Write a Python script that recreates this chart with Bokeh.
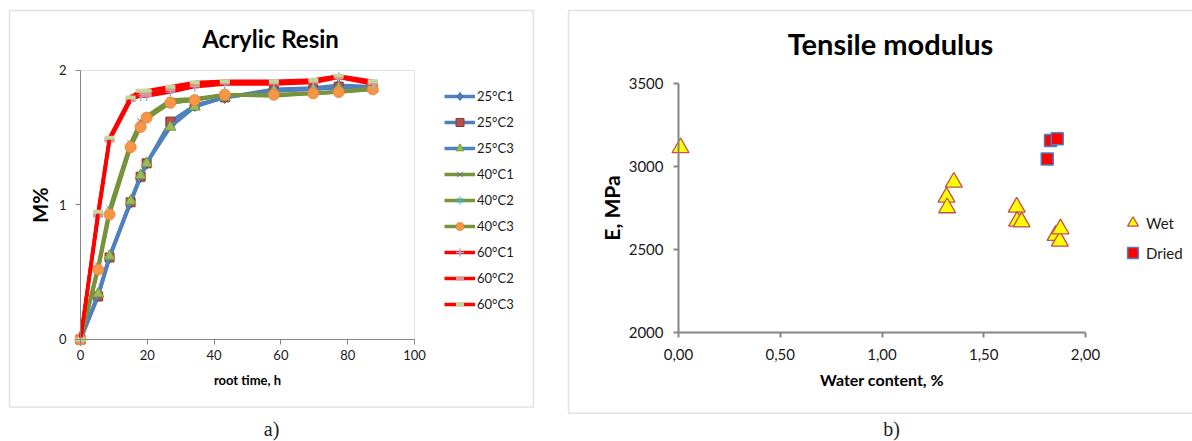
from bokeh.plotting import figure
from bokeh.layouts import row
from bokeh.models import (Range1d, Label, BoxAnnotation, Legend, LegendItem,
                          FixedTicker, CustomJSTickFormatter)
from bokeh.embed import file_html
from bokeh.resources import INLINE

# ---------------- data: a) Acrylic Resin ----------------
root_time = [0, 5.3, 8.7, 15.0, 18.0, 19.8, 26.9, 34.2, 43.2, 57.9, 69.7, 77.3, 87.5]
m_25c1 = [0, 0.33, 0.61, 1.02, 1.21, 1.31, 1.60, 1.74, 1.80, 1.86, 1.87, 1.89, 1.88]
m_25c2 = [0, 0.32, 0.61, 1.02, 1.21, 1.31, 1.62, 1.74, 1.80, 1.85, 1.86, 1.88, 1.87]
m_25c3 = [0, 0.34, 0.62, 1.03, 1.22, 1.31, 1.58, 1.73, 1.80, 1.85, 1.86, 1.87, 1.87]
m_40c1 = [0, 0.55, 0.97, 1.46, 1.62, 1.66, 1.78, 1.79, 1.82, 1.81, 1.83, 1.84, 1.86]
m_40c2 = [0, 0.53, 0.95, 1.44, 1.60, 1.64, 1.76, 1.78, 1.82, 1.82, 1.83, 1.84, 1.87]
m_40c3 = [0, 0.52, 0.93, 1.43, 1.58, 1.65, 1.76, 1.78, 1.82, 1.82, 1.83, 1.84, 1.86]
m_60c1 = [0, 0.94, 1.49, 1.79, 1.81, 1.81, 1.84, 1.88, 1.90, 1.90, 1.91, 1.95, 1.90]
m_60c2 = [0, 0.92, 1.48, 1.78, 1.83, 1.82, 1.86, 1.89, 1.91, 1.91, 1.92, 1.95, 1.91]
m_60c3 = [0, 0.95, 1.50, 1.80, 1.85, 1.85, 1.88, 1.91, 1.92, 1.92, 1.93, 1.96, 1.92]
series_names = ["25°C1", "25°C2", "25°C3", "40°C1", "40°C2", "40°C3", "60°C1", "60°C2", "60°C3"]
x1_ticks = [0, 20, 40, 60, 80, 100]
y1_ticks = [0, 1, 2]

# ---------------- data: b) Tensile modulus ----------------
wet_water = [0.01, 1.317, 1.320, 1.353, 1.662, 1.664, 1.686, 1.853, 1.874, 1.877]
wet_E = [3114, 2816, 2752, 2906, 2756, 2671, 2667, 2585, 2551, 2625]
dried_water = [1.812, 1.828, 1.861]
dried_E = [3047, 3158, 3168]
x2_ticks = [0, 0.5, 1.0, 1.5, 2.0]
y2_ticks = [2000, 2500, 3000, 3500]

FONT = "Lato"
TXT = "#1a1a1a"
AXC = "#868686"


def style_axis(ax, ticks, size, lw):
    ax.ticker = FixedTicker(ticks=ticks)
    ax.axis_line_color = AXC
    ax.axis_line_width = lw
    ax.major_tick_line_color = AXC
    ax.major_tick_line_width = lw
    ax.major_tick_out = 5
    ax.major_tick_in = 0
    ax.minor_tick_line_color = None
    ax.major_label_text_font = FONT
    ax.major_label_text_font_size = size
    ax.major_label_text_color = TXT
    ax.axis_label_text_font = FONT
    ax.axis_label_text_font_style = "bold"
    ax.axis_label_text_color = "black"


# ================= figure a =================
# frame = whole figure; axes are pinned at the data origin
p1 = figure(width=559, height=441, x_range=Range1d(-23.95, 143.41),
            y_range=Range1d(-0.7584, 2.5204),
            output_backend="svg", toolbar_location=None,
            min_border_left=0, min_border_right=0, min_border_top=0, min_border_bottom=0)
p1.xgrid.visible = False
p1.ygrid.visible = False
p1.outline_line_color = None

style_axis(p1.xaxis[0], x1_ticks, "13px", 1)
style_axis(p1.yaxis[0], y1_ticks, "13px", 1)
p1.xaxis.fixed_location = 0
p1.xaxis.bounds = (0, 100)
p1.yaxis.fixed_location = 0
p1.yaxis.bounds = (0, 2)
p1.xaxis.axis_label = "root time, h"
p1.xaxis.axis_label_text_font_size = "13px"
p1.xaxis.major_label_standoff = 6
p1.xaxis.axis_label_standoff = 8
p1.yaxis.axis_label = "M%"
p1.yaxis.axis_label_text_font_size = "20px"
p1.yaxis.major_label_standoff = 9
p1.yaxis.axis_label_standoff = 4

# chart border and plot-area border
p1.add_layout(BoxAnnotation(left=-21.26, right=135.6, top=2.446, bottom=-0.502,
                            fill_alpha=0, line_color="#A0A0A0", line_width=1.5, level="underlay"))
p1.add_layout(BoxAnnotation(left=0, right=100, top=2, bottom=0,
                            fill_alpha=0, line_color="#7BA0CD", line_width=1, level="underlay"))

series_vals = [m_25c1, m_25c2, m_25c3, m_40c1, m_40c2, m_40c3, m_60c1, m_60c2, m_60c3]
line_cols = ["#4F81BD"] * 3 + ["#77933C"] * 3 + ["#FF0000"] * 3
markers = [
    dict(marker="diamond", size=12, fill_color="#4F81BD", line_color="#3A6797", line_width=1),
    dict(marker="square", size=9, fill_color="#B5504C", line_color="#8C3836", line_width=1),
    dict(marker="triangle", size=11, fill_color="#9BBB59", line_color="#7A9A3E", line_width=1),
    dict(marker="x", size=9, line_color="#8064A2", line_width=1),
    dict(marker="asterisk", size=9, line_color="#4BACC6", line_width=1),
    dict(marker="circle", size=11, fill_color="#F79646", line_color="#E58A3C", line_width=1),
    dict(marker="cross", size=10, line_color="#95B3D7", line_width=1.5),
    dict(marker="dash", size=10, line_color="#D99694", line_width=4),
    dict(marker="dash", size=10, line_color="#C3D69B", line_width=4),
]
items = []
for name, vals, lc, mk in zip(series_names, series_vals, line_cols, markers):
    lr = p1.line(root_time, vals, line_color=lc, line_width=3.5)
    sr = p1.scatter(root_time, vals, **mk)
    items.append(LegendItem(label=name, renderers=[lr, sr]))

leg1 = Legend(items=items, location=(444, 127), orientation="vertical",
              glyph_width=31, glyph_height=20, label_height=20, spacing=6,
              padding=0, margin=0, label_standoff=2,
              border_line_color=None, background_fill_alpha=0,
              label_text_font=FONT, label_text_font_size="13px", label_text_color=TXT)
p1.add_layout(leg1)

p1.add_layout(Label(x=56.9, y=2.238, text="Acrylic Resin", text_align="center",
                    text_baseline="middle", text_font=FONT, text_font_style="bold",
                    text_font_size="24px", text_color="black"))
p1.add_layout(Label(x=57.2, y=-0.662, text="a)", text_align="center",
                    text_baseline="middle", text_font="Liberation Serif",
                    text_font_size="20px", text_color="#222222"))

# ================= figure b =================
p2 = figure(width=633, height=441, x_range=Range1d(-0.58477, 2.52580),
            y_range=Range1d(1342.6, 4002.4),
            output_backend="svg", toolbar_location=None,
            min_border_left=0, min_border_right=0, min_border_top=0, min_border_bottom=0)
p2.xgrid.visible = False
p2.ygrid.visible = False
p2.outline_line_color = None

style_axis(p2.xaxis[0], x2_ticks, "15px", 2)
style_axis(p2.yaxis[0], y2_ticks, "15px", 2)
p2.xaxis.fixed_location = 2000
p2.xaxis.bounds = (0, 2)
p2.yaxis.fixed_location = 0
p2.yaxis.bounds = (2000, 3500)
p2.xaxis.formatter = CustomJSTickFormatter(code="return tick.toFixed(2).replace('.', ',');")
p2.xaxis.axis_label = "Water content, %"
p2.xaxis.axis_label_text_font_size = "16px"
p2.xaxis.major_label_standoff = 11
p2.xaxis.axis_label_standoff = 7
p2.yaxis.axis_label = "E, MPa"
p2.yaxis.axis_label_text_font_size = "21px"
p2.yaxis.major_label_standoff = 10
p2.yaxis.axis_label_standoff = 2

p2.add_layout(BoxAnnotation(left=-0.5405, right=2.6, top=3942, bottom=1513,
                            fill_alpha=0, line_color="#A0A0A0", line_width=1.5, level="underlay"))

wet_r = p2.scatter(wet_water, wet_E, marker="triangle", size=17, fill_color="#FFFF00",
                   line_color="#C0504D", line_width=1.3)
dried_r = p2.scatter(dried_water, dried_E, marker="square", size=12, fill_color="#FF0000",
                     line_color="#4F81BD", line_width=1.5)
leg2 = Legend(items=[LegendItem(label="Wet", renderers=[wet_r]),
                     LegendItem(label="Dried", renderers=[dried_r])],
              location=(560, 175), orientation="vertical",
              glyph_width=27, glyph_height=27, label_height=27, spacing=3,
              padding=0, margin=0, label_standoff=-7,
              border_line_color=None, background_fill_alpha=0,
              label_text_font=FONT, label_text_font_size="15px", label_text_color=TXT)
p2.add_layout(leg2)

p2.add_layout(Label(x=1.0418, y=3743, text="Tensile modulus", text_align="center",
                    text_baseline="middle", text_font=FONT, text_font_style="bold",
                    text_font_size="29px", text_color="black"))
p2.add_layout(Label(x=1.047, y=1421, text="b)", text_align="center",
                    text_baseline="middle", text_font="Liberation Serif",
                    text_font_size="20px", text_color="#222222"))

layout = row(p1, p2)
open("out.html", "w").write(file_html(layout, INLINE))
